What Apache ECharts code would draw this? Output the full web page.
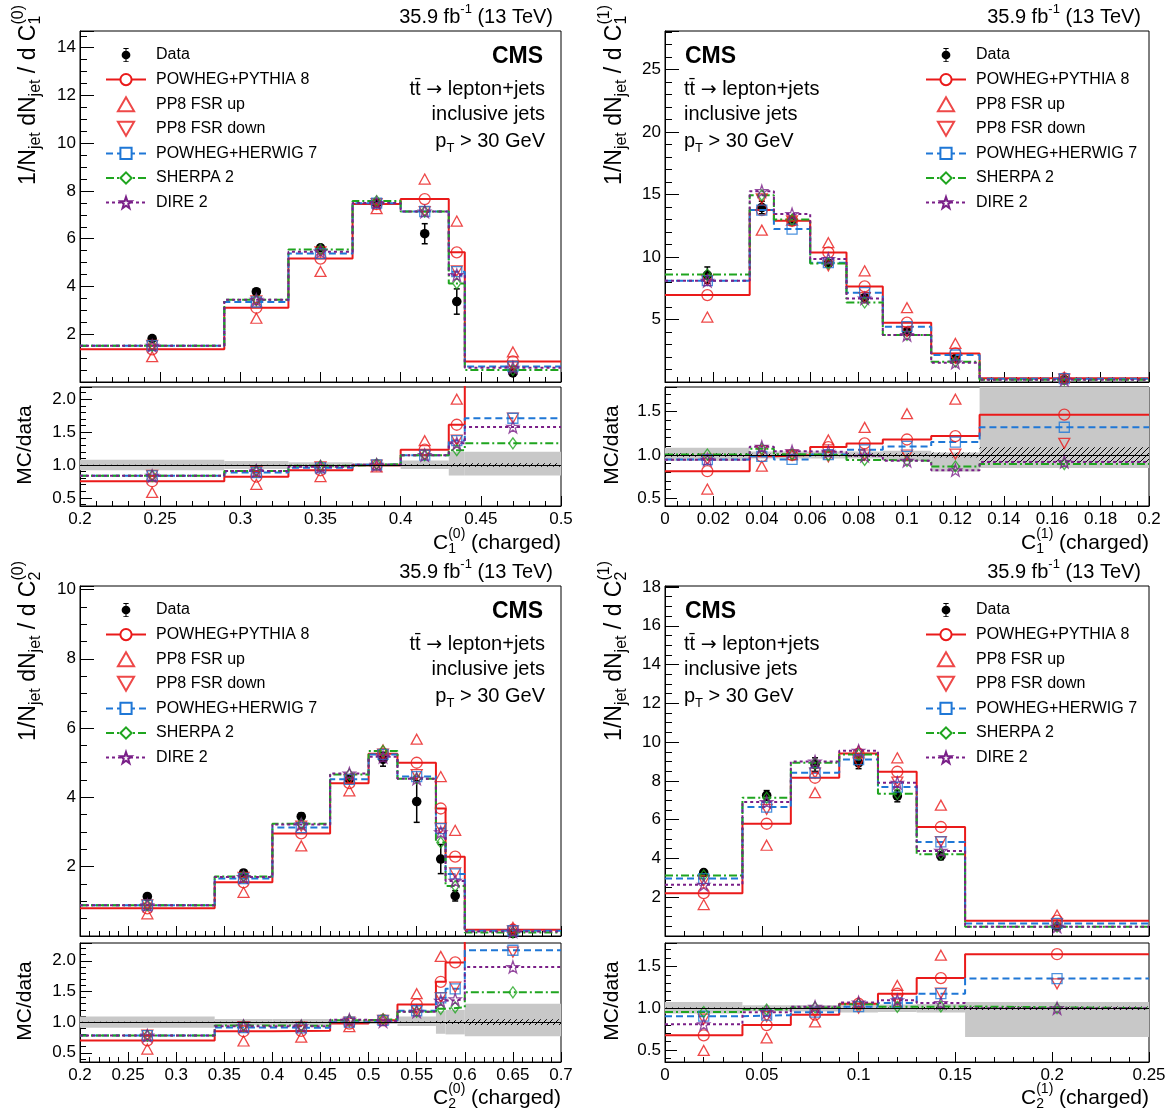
<!DOCTYPE html>
<html><head><meta charset="utf-8">
<script src="https://cdn.jsdelivr.net/npm/echarts@6/dist/echarts.min.js"></script>
<style>html,body{margin:0;padding:0;background:#fff}#c{width:1173px;height:1115px}</style>
</head><body><div id="c"></div><script>
// ===== Panel A: C1(0) =====
const A_edges = [0.2, 0.29, 0.33, 0.37, 0.40, 0.43, 0.44, 0.5];
const A_data = [1.82, 3.78, 5.62, 7.47, 6.21, 3.37, 0.38];
const A_dataErr = [0.08, 0.10, 0.12, 0.15, 0.42, 0.53, 0.12];
const A_pp8 = [1.37, 3.11, 5.17, 7.45, 7.66, 5.43, 0.86];
const A_fsrUp = [1.06, 2.67, 4.63, 7.26, 8.50, 6.74, 1.26];
const A_fsrDown = [1.53, 3.40, 5.45, 7.47, 7.14, 4.65, 0.65];
const A_herwig = [1.52, 3.35, 5.38, 7.49, 7.14, 4.62, 0.65];
const A_sherpa = [1.52, 3.44, 5.55, 7.58, 7.14, 4.13, 0.505];
const A_dire = [1.52, 3.44, 5.46, 7.50, 7.14, 4.48, 0.60];
const A_systUp = [0.08, 0.06, 0.04, 0.03, 0.07, 0.20, 0.20];
const A_systDown = [0.08, 0.06, 0.04, 0.03, 0.06, 0.16, 0.16];
const A_stat = [0.005, 0.005, 0.005, 0.005, 0.01, 0.025, 0.025];
const A_xLabels = ['0.2','0.25','0.3','0.35','0.4','0.45','0.5'];
const A_yLabels = ['2','4','6','8','10','12','14'];
const A_rLabels = ['0.5','1.0','1.5','2.0'];

// ===== Panel B: C1(1) =====
const B_edges = [0, 0.035, 0.045, 0.06, 0.075, 0.09, 0.11, 0.13, 0.2];
const B_data = [8.56, 13.97, 12.9, 9.5, 6.75, 4.03, 1.88, 0.20];
const B_dataErr = [0.65, 0.5, 0.3, 0.25, 0.25, 0.2, 0.15, 0.05];
const B_pp8 = [6.96, 13.76, 12.9, 10.37, 7.65, 4.75, 2.29, 0.293];
const B_fsrUp = [5.2, 12.16, 12.95, 11.15, 8.9, 5.95, 3.09, 0.38];
const B_fsrDown = [8.13, 14.67, 12.9, 9.3, 6.75, 4.03, 1.90, 0.227];
const B_herwig = [8.11, 13.76, 12.24, 9.55, 7.15, 4.43, 2.16, 0.264];
const B_sherpa = [8.61, 14.96, 13.0, 9.49, 6.37, 3.76, 1.63, 0.179];
const B_dire = [8.10, 15.28, 13.44, 9.84, 6.69, 3.76, 1.55, 0.184];
const B_systUp = [0.085, 0.04, 0.04, 0.04, 0.04, 0.05, 0.03, 0.85];
const B_systDown = [0.07, 0.04, 0.04, 0.04, 0.04, 0.07, 0.19, 0.15];
const B_stat = [0.02, 0.015, 0.015, 0.015, 0.02, 0.02, 0.03, 0.09];
const B_xLabels = ['0','0.02','0.04','0.06','0.08','0.1','0.12','0.14','0.16','0.18','0.2'];
const B_yLabels = ['5','10','15','20','25'];
const B_rLabels = ['0.5','1.0','1.5'];

// ===== Panel C: C2(0) =====
const C_edges = [0.2, 0.34, 0.40, 0.46, 0.50, 0.53, 0.57, 0.58, 0.60, 0.70];
const C_data = [1.14, 1.82, 3.45, 4.52, 5.10, 3.88, 2.22, 1.16, 0.07];
const C_dataErr = [0.05, 0.08, 0.10, 0.12, 0.2, 0.6, 0.42, 0.15, 0.01];
const C_pp8 = [0.80, 1.55, 2.96, 4.41, 5.26, 5.0, 3.68, 2.29, 0.18];
const C_fsrUp = [0.64, 1.26, 2.60, 4.19, 5.37, 5.68, 4.60, 3.05, 0.25];
const C_fsrDown = [0.90, 1.69, 3.17, 4.52, 5.25, 4.66, 3.11, 1.82, 0.15];
const C_herwig = [0.89, 1.66, 3.13, 4.52, 5.24, 4.60, 3.10, 1.79, 0.152];
const C_sherpa = [0.89, 1.72, 3.24, 4.66, 5.34, 4.54, 2.70, 1.44, 0.104];
const C_dire = [0.89, 1.70, 3.22, 4.69, 5.17, 4.54, 2.99, 1.59, 0.133];
const C_systUp = [0.09, 0.05, 0.05, 0.03, 0.03, 0.09, 0.18, 0.2, 0.3];
const C_systDown = [0.09, 0.05, 0.05, 0.03, 0.03, 0.065, 0.19, 0.2, 0.23];
const C_stat = [0.005, 0.005, 0.005, 0.005, 0.005, 0.01, 0.02, 0.03, 0.045];
const C_xLabels = ['0.2','0.25','0.3','0.35','0.4','0.45','0.5','0.55','0.6','0.65','0.7'];
const C_yLabels = ['2','4','6','8','10'];
const C_rLabels = ['0.5','1.0','1.5','2.0'];

// ===== Panel D: C2(1) =====
const D_edges = [0, 0.04, 0.065, 0.09, 0.11, 0.13, 0.155, 0.25];
const D_data = [3.27, 7.25, 8.84, 8.93, 7.22, 4.13, 0.48];
const D_dataErr = [0.15, 0.25, 0.35, 0.3, 0.3, 0.2, 0.05];
const D_pp8 = [2.21, 5.79, 8.16, 9.41, 8.47, 5.62, 0.79];
const D_fsrUp = [1.62, 4.68, 7.39, 9.55, 9.19, 6.75, 1.08];
const D_fsrDown = [2.84, 6.53, 8.40, 8.93, 7.94, 4.87, 0.62];
const D_herwig = [2.96, 6.65, 8.42, 9.10, 7.68, 4.85, 0.65];
const D_sherpa = [3.12, 7.13, 8.93, 9.36, 7.34, 4.22, 0.48];
const D_dire = [2.64, 6.91, 9.0, 9.55, 7.90, 4.39, 0.48];
const D_systUp = [0.075, 0.035, 0.04, 0.05, 0.045, 0.05, 0.075];
const D_systDown = [0.063, 0.035, 0.04, 0.05, 0.045, 0.05, 0.345];
const D_stat = [0.01, 0.01, 0.01, 0.01, 0.01, 0.015, 0.02];
const D_xLabels = ['0','0.05','0.1','0.15','0.2','0.25'];
const D_yLabels = ['2','4','6','8','10','12','14','16','18'];
const D_rLabels = ['0.5','1.0','1.5'];

const FONT = '"Liberation Sans", Arial, Helvetica, sans-serif';
const RED = '#ea1a1a', BLUE = '#1f77d6', GREEN = '#1fa51f', PURPLE = '#7a1f88';
const UP_TRI = 'path://M5,0L10,8.66L0,8.66Z';
const INV_TRI = 'path://M0,0L10,0L5,8.66Z';
const STAR = 'path://M0,-10L2.35,-3.24L9.51,-3.09L3.8,1.24L5.88,8.09L0,4L-5.88,8.09L-3.8,1.24L-9.51,-3.09L-2.35,-3.24Z';
const DATA_ICON = 'path://M4.4,0H5.6V16H4.4Z M2,0H8V1H2Z M2,15H8V16H2Z M0,8A5,5 0 1,1 10,8A5,5 0 1,1 0,8Z';

const STY = {
  pp8: {name:'POWHEG+PYTHIA 8', color:RED, dash:'solid', symbol:'circle', size:11},
  up:  {name:'PP8 FSR up', color:RED, symbol:UP_TRI, size:[11,10]},
  dn:  {name:'PP8 FSR down', color:RED, symbol:INV_TRI, size:[11,10]},
  hw:  {name:'POWHEG+HERWIG 7', color:BLUE, dash:[7,4], symbol:'rect', size:10},
  sh:  {name:'SHERPA 2', color:GREEN, dash:[8,3,2,3], symbol:'diamond', size:[8,11]},
  di:  {name:'DIRE 2', color:PURPLE, dash:[3,3], symbol:STAR, size:12}
};

const PANELS = [
  {edges:A_edges, data:A_data, err:A_dataErr, pp8:A_pp8, up:A_fsrUp, dn:A_fsrDown, hw:A_herwig, sh:A_sherpa, di:A_dire,
   sysU:A_systUp, sysD:A_systDown, stat:A_stat, xLabels:A_xLabels, yLabels:A_yLabels, rLabels:A_rLabels,
   xr:[0.2,0.5], xInt:0.05, xMinor:5, yMax:14.7, yInt:2, yMinor:4, rMin:0.377, rMax:2.185,
   main:{left:80,top:31,width:481,height:351}, ratio:{left:80,top:387,width:481,height:119},
   leg:{left:105,top:47}, lumi:[553,17], txtX:545, txtAlign:'right', cmsX:543, txtY:[57,89,114,141],
   yt:[29,5], rt:[25,445], xt:[561,543], sub:'1', sup:'(0)'},
  {edges:B_edges, data:B_data, err:B_dataErr, pp8:B_pp8, up:B_fsrUp, dn:B_fsrDown, hw:B_herwig, sh:B_sherpa, di:B_dire,
   sysU:B_systUp, sysD:B_systDown, stat:B_stat, xLabels:B_xLabels, yLabels:B_yLabels, rLabels:B_rLabels,
   xr:[0,0.2], xInt:0.02, xMinor:4, yMax:28.1, yInt:5, yMinor:5, rMin:0.412, rMax:1.784,
   main:{left:665,top:31,width:484,height:351}, ratio:{left:665,top:387,width:484,height:119},
   leg:{left:925,top:47}, lumi:[1141,17], txtX:684, txtAlign:'left', cmsX:685, txtY:[57,89,114,141],
   yt:[615,5], rt:[612,445], xt:[1149,543], sub:'1', sup:'(1)'},
  {edges:C_edges, data:C_data, err:C_dataErr, pp8:C_pp8, up:C_fsrUp, dn:C_fsrDown, hw:C_herwig, sh:C_sherpa, di:C_dire,
   sysU:C_systUp, sysD:C_systDown, stat:C_stat, xLabels:C_xLabels, yLabels:C_yLabels, rLabels:C_rLabels,
   xr:[0.2,0.7], xInt:0.05, xMinor:5, yMax:10.1, yInt:2, yMinor:4, rMin:0.35, rMax:2.29,
   main:{left:80,top:586,width:481,height:350}, ratio:{left:80,top:943,width:481,height:119},
   leg:{left:105,top:602}, lumi:[553,572], txtX:545, txtAlign:'right', cmsX:543, txtY:[612,644,669,696],
   yt:[29,561], rt:[25,1001], xt:[561,1098], sub:'2', sup:'(0)'},
  {edges:D_edges, data:D_data, err:D_dataErr, pp8:D_pp8, up:D_fsrUp, dn:D_fsrDown, hw:D_herwig, sh:D_sherpa, di:D_dire,
   sysU:D_systUp, sysD:D_systDown, stat:D_stat, xLabels:D_xLabels, yLabels:D_yLabels, rLabels:D_rLabels,
   xr:[0,0.25], xInt:0.05, xMinor:5, yMax:18.05, yInt:2, yMinor:4, rMin:0.357, rMax:1.78,
   main:{left:665,top:586,width:484,height:350}, ratio:{left:665,top:943,width:484,height:119},
   leg:{left:925,top:602}, lumi:[1141,572], txtX:684, txtAlign:'left', cmsX:685, txtY:[612,644,669,696],
   yt:[615,561], rt:[612,1001], xt:[1149,1098], sub:'2', sup:'(1)'}
];

function centers(e){ const c=[]; for(let i=0;i<e.length-1;i++) c.push((e[i]+e[i+1])/2); return c; }
function stepPts(e, v){ const d = v.map((y,i)=>[e[i], y]); d.push([e[e.length-1], v[v.length-1]]); return d; }
function fmt(labels){ const vals = labels.map(parseFloat); return v => { const i = vals.findIndex(x => Math.abs(x - v) < 1e-6); return i >= 0 ? labels[i] : ''; }; }

// hatch pattern
const hc = document.createElement('canvas'); hc.width = 6; hc.height = 6;
(function(){ const g = hc.getContext('2d'); g.strokeStyle = '#000'; g.lineWidth = 1;
  g.beginPath(); g.moveTo(-1,7); g.lineTo(7,-1); g.stroke();
  g.beginPath(); g.moveTo(-1,1); g.lineTo(1,-1); g.stroke();
  g.beginPath(); g.moveTo(5,7); g.lineTo(7,5); g.stroke(); })();

function renderData(params, api){
  const x = api.value(0), y = api.value(1), e = api.value(2);
  const c = api.coord([x,y]), t = api.coord([x,y+e]), b = api.coord([x,y-e]);
  const st = {stroke:'#000', lineWidth:1.5};
  return {type:'group', children:[
    {type:'line', shape:{x1:c[0], y1:t[1], x2:c[0], y2:b[1]}, style:st},
    {type:'line', shape:{x1:c[0]-3, y1:t[1], x2:c[0]+3, y2:t[1]}, style:st},
    {type:'line', shape:{x1:c[0]-3, y1:b[1], x2:c[0]+3, y2:b[1]}, style:st},
    {type:'circle', shape:{cx:c[0], cy:c[1], r:4.8}, style:{fill:'#000'}}
  ]};
}
function bandRenderer(fill){
  return function(params, api){
    const p0 = api.coord([api.value(0), api.value(3)]);
    const p1 = api.coord([api.value(1), api.value(2)]);
    const cs = params.coordSys;
    const r = echarts.graphic.clipRectByRect({x:p0[0], y:p0[1], width:p1[0]-p0[0], height:p1[1]-p0[1]},
      {x:cs.x, y:cs.y, width:cs.width, height:cs.height});
    return r && {type:'rect', shape:r, style:{fill: fill === 'hatch' ? {image:hc, repeat:'repeat'} : fill}};
  };
}
function histLine(key, edges, vals, xi, yi){
  const s = STY[key];
  return {type:'line', name:s.name, xAxisIndex:xi, yAxisIndex:yi, step:'end', data:stepPts(edges, vals),
    showSymbol:false, symbol:s.symbol, symbolSize:s.size, clip:true, silent:true,
    lineStyle:{color:s.color, width:2, type:s.dash}, itemStyle:{color:'#fff', borderColor:s.color, borderWidth:1.3},
    emphasis:{disabled:true}, z:3};
}
function markers(key, edges, vals, xi, yi){
  const s = STY[key];
  return {type:'scatter', name:s.name, xAxisIndex:xi, yAxisIndex:yi, data:centers(edges).map((c,i)=>[c, vals[i]]),
    symbol:s.symbol, symbolSize:s.size, clip:true, silent:true,
    itemStyle:{color:'rgba(255,255,255,0)', borderColor:s.color, borderWidth:1.3}, emphasis:{disabled:true}, z:4};
}

// text layout helpers
const mctx = document.createElement('canvas').getContext('2d');
function famOf(sg){ return sg.f ? sg.f : FONT; }
function tw(sg){ mctx.font = (sg.b ? 'bold ' : '') + sg.s + 'px ' + famOf(sg); return mctx.measureText(sg.t).width; }
function textGroup(segs, ax, ay, align, rot){
  let x = 0, prevX = 0; const items = [];
  segs.forEach(sg => { const w = tw(sg); let px;
    if (sg.stack) { px = prevX; x = Math.max(x, prevX + w); } else { px = x; prevX = px; x += w; }
    items.push({sg, px}); });
  const off = align === 'right' ? -x : (align === 'center' ? -x/2 : 0);
  return {type:'group', x:ax, y:ay, rotation:rot || 0, silent:true, children: items.map(it => ({
    type:'text', x: it.px + off, y: it.sg.dy || 0,
    style:{text:it.sg.t, fontSize:it.sg.s, fontFamily:famOf(it.sg), fontWeight: it.sg.b ? 'bold' : 'normal', fill:'#000',
      textAlign:'left', align:'left', textVerticalAlign:'middle', verticalAlign:'middle'}}))};
}

const option = {animation:false, backgroundColor:'#fff', grid:[], xAxis:[], yAxis:[], series:[], legend:[], graphic:[]};
const legendNames = ['POWHEG+PYTHIA 8','PP8 FSR up','PP8 FSR down','POWHEG+HERWIG 7','SHERPA 2','DIRE 2'];

PANELS.forEach((P, k) => {
  const gm = 2*k, gr = 2*k + 1;
  option.grid.push(Object.assign({show:true, borderColor:'#000', borderWidth:1}, P.main));
  option.grid.push(Object.assign({show:true, borderColor:'#000', borderWidth:1}, P.ratio));
  const xBase = {type:'value', min:P.xr[0], max:P.xr[1], interval:P.xInt, splitLine:{show:false},
    axisLine:{show:true, onZero:false, lineStyle:{color:'#000', width:1}},
    axisTick:{show:true, inside:true, length:10, lineStyle:{color:'#000', width:1}},
    minorTick:{show:true, splitNumber:P.xMinor, length:5, lineStyle:{color:'#000', width:1}}};
  option.xAxis.push(Object.assign({}, xBase, {gridIndex:gm, axisLabel:{show:false}}));
  option.xAxis.push(Object.assign({}, xBase, {gridIndex:gr, axisLabel:{show:true, formatter:fmt(P.xLabels),
    fontFamily:FONT, fontSize:17, color:'#000', margin:5}}));
  option.yAxis.push({type:'value', gridIndex:gm, min:0, max:P.yMax, interval:P.yInt, splitLine:{show:false},
    axisLine:{show:true, onZero:false, lineStyle:{color:'#000', width:1}},
    axisTick:{show:true, inside:true, length:14, lineStyle:{color:'#000', width:1}},
    minorTick:{show:true, splitNumber:P.yMinor, length:7, lineStyle:{color:'#000', width:1}},
    axisLabel:{formatter:fmt(P.yLabels), fontFamily:FONT, fontSize:17, color:'#000', margin:4}});
  option.yAxis.push({type:'value', gridIndex:gr, min:P.rMin, max:P.rMax, minInterval:0.5, maxInterval:0.5, splitNumber:4,
    splitLine:{show:false},
    axisLine:{show:true, onZero:false, lineStyle:{color:'#000', width:1}},
    axisTick:{show:true, inside:true, length:12, lineStyle:{color:'#000', width:1}},
    minorTick:{show:true, splitNumber:5, length:6, lineStyle:{color:'#000', width:1}},
    axisLabel:{formatter:fmt(P.rLabels), fontFamily:FONT, fontSize:17, color:'#000', margin:4}});

  const cen = centers(P.edges);
  // main panel
  option.series.push({type:'custom', name:'Data', xAxisIndex:gm, yAxisIndex:gm, renderItem:renderData,
    data: cen.map((c,i)=>[c, P.data[i], P.err[i]]), itemStyle:{color:'#000'}, silent:true, z:2});
  ['pp8','hw','sh','di'].forEach(key => option.series.push(histLine(key, P.edges, P[key], gm, gm)));
  ['pp8','up','dn','hw','sh','di'].forEach(key => option.series.push(markers(key, P.edges, P[key], gm, gm)));
  // ratio panel
  const bins = P.data.map((d,i)=>i);
  option.series.push({type:'custom', name:'_syst', xAxisIndex:gr, yAxisIndex:gr, renderItem:bandRenderer('#c8c8c8'),
    data: bins.map(i => [P.edges[i], P.edges[i+1], 1 - P.sysD[i], 1 + P.sysU[i]]), silent:true, z:1});
  option.series.push({type:'custom', name:'_stat', xAxisIndex:gr, yAxisIndex:gr, renderItem:bandRenderer('hatch'),
    data: bins.map(i => [P.edges[i], P.edges[i+1], 1 - P.stat[i], 1 + P.stat[i]]), silent:true, z:1,
    markLine:{silent:true, symbol:['none','none'], label:{show:false}, animation:false,
      lineStyle:{color:'#000', width:1, type:'solid'}, data:[{yAxis:1}]}});
  const ratio = key => P[key].map((v,i)=>v / P.data[i]);
  ['pp8','hw','sh','di'].forEach(key => option.series.push(histLine(key, P.edges, ratio(key), gr, gr)));
  ['pp8','up','dn','hw','sh','di'].forEach(key => option.series.push(markers(key, P.edges, ratio(key), gr, gr)));

  // legend
  option.legend.push({left:P.leg.left, top:P.leg.top, orient:'vertical', itemWidth:40, itemHeight:14, itemGap:8.6,
    padding:0, selectedMode:false, symbolKeepAspect:true,
    textStyle:{fontFamily:FONT, fontSize:16, color:'#000', lineHeight:14, padding:[0,0,0,5]},
    data:[{name:'Data', icon:DATA_ICON, itemStyle:{color:'#000'}}].concat(legendNames)});

  // texts
  const G = option.graphic;
  G.push(textGroup([{t:'35.9 fb', s:20}, {t:'-1', s:13, dy:-8}, {t:' (13 TeV)', s:20}], P.lumi[0], P.lumi[1], 'right'));
  G.push(textGroup([{t:'CMS', s:23, b:true}], P.cmsX, P.txtY[0], P.txtAlign));
  G.push(textGroup([{t:'tt\u0304 ', s:20}, {t:'\u2192', s:19, f:'"DejaVu Sans"', dy:1}, {t:' lepton+jets', s:20}], P.txtX, P.txtY[1], P.txtAlign));
  G.push(textGroup([{t:'inclusive jets', s:20}], P.txtX, P.txtY[2], P.txtAlign));
  G.push(textGroup([{t:'p', s:20}, {t:'T', s:13, dy:7}, {t:' > 30 GeV', s:20}], P.txtX, P.txtY[3], P.txtAlign));
  G.push(textGroup([{t:'1/N', s:23}, {t:'jet', s:16, dy:7}, {t:' dN', s:23}, {t:'jet', s:16, dy:7}, {t:' / d C', s:23},
    {t:P.sub, s:16, dy:7}, {t:P.sup, s:16, dy:-10, stack:true}], P.yt[0], P.yt[1], 'right', Math.PI/2));
  G.push(textGroup([{t:'MC/data', s:21}], P.rt[0], P.rt[1], 'center', Math.PI/2));
  G.push(textGroup([{t:'C', s:21}, {t:P.sub, s:14, dy:6}, {t:P.sup, s:14, dy:-9, stack:true}, {t:' (charged)', s:21}],
    P.xt[0], P.xt[1], 'right'));
});

const chart = echarts.init(document.getElementById('c'), null, {renderer:'canvas'});
chart.setOption(option);
</script></body></html>
